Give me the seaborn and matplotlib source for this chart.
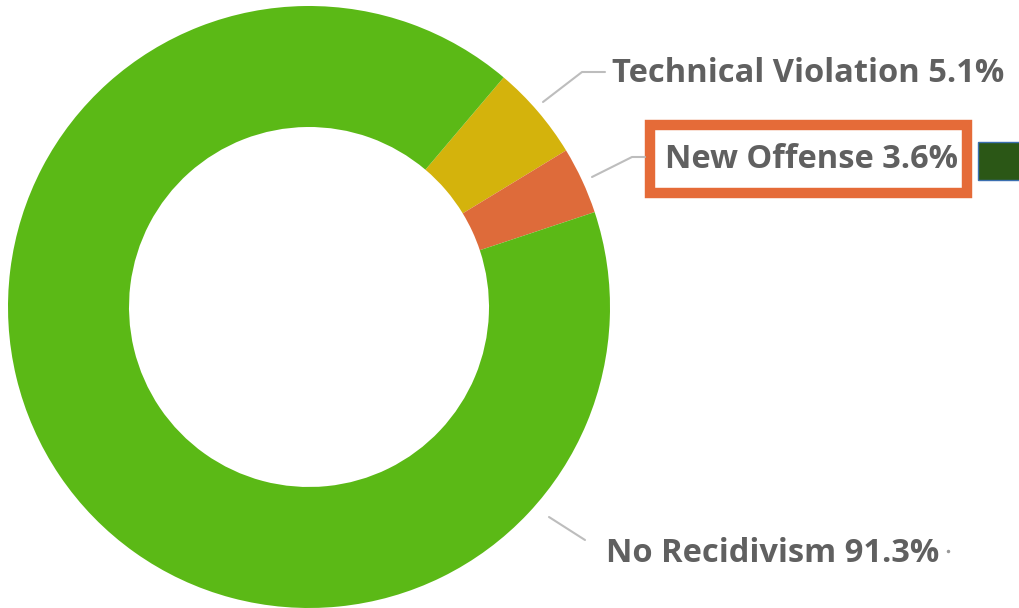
import matplotlib
matplotlib.use("Agg")
import matplotlib.pyplot as plt
import seaborn as sns
from matplotlib.patches import Rectangle

sns.set_theme(style="white")
plt.rcParams['font.family'] = ['Open Sans', 'DejaVu Sans']

# Data (order drawn clockwise starting at the top-right)
categories = ["Technical Violation", "New Offense", "No Recidivism"]
values = [5.1, 3.6, 91.3]
colors = ["#D4B30C", "#DE6B3A", "#5BB916"]

W, H = 1019, 608
fig = plt.figure(figsize=(W / 100, H / 100), dpi=100)
ax = fig.add_axes([0, 0, 1, 1])

cx, cy, R, r = 309, H - 307, 301, 180
ax.pie(values, colors=colors, startangle=49.7, counterclock=False,
       center=(cx, cy), radius=R, frame=True,
       wedgeprops=dict(width=R - r, linewidth=0))
ax.set_xlim(0, W)
ax.set_ylim(0, H)
ax.axis("off")

txt_color = "#606060"
line_color = "#BDBDBD"
fs = 23.5

def py(y):
    return H - y

# Technical Violation label
ax.plot([543, 582, 605], [py(102), py(72), py(72)], color=line_color, lw=1.5)
ax.text(612, py(73), f"{categories[0]} {values[0]}%", fontsize=fs, fontweight="bold",
        color=txt_color, va="center", ha="left")

# New Offense label with orange box
ax.plot([592, 632, 645], [py(177), py(157), py(157)], color=line_color, lw=1.5)
ax.add_patch(Rectangle((650, py(193)), 317, 68, fill=False, edgecolor="#E56B38", lw=7.5))
ax.text(665, py(160), f"{categories[1]} {values[1]}%", fontsize=fs, fontweight="bold",
        color=txt_color, va="center", ha="left")
ax.add_patch(Rectangle((978, py(180)), 45, 38, facecolor="#2B5716", edgecolor="#3B6FB0", lw=1))

# No Recidivism label
ax.plot([549, 585], [py(517), py(540)], color=line_color, lw=1.5)
ax.text(606, py(554), f"{categories[2]} {values[2]}%", fontsize=fs, fontweight="bold",
        color=txt_color, va="center", ha="left")
ax.plot([948], [py(551)], marker="o", ms=1.5, color="#999999")

fig.savefig("out.png", dpi=100)
